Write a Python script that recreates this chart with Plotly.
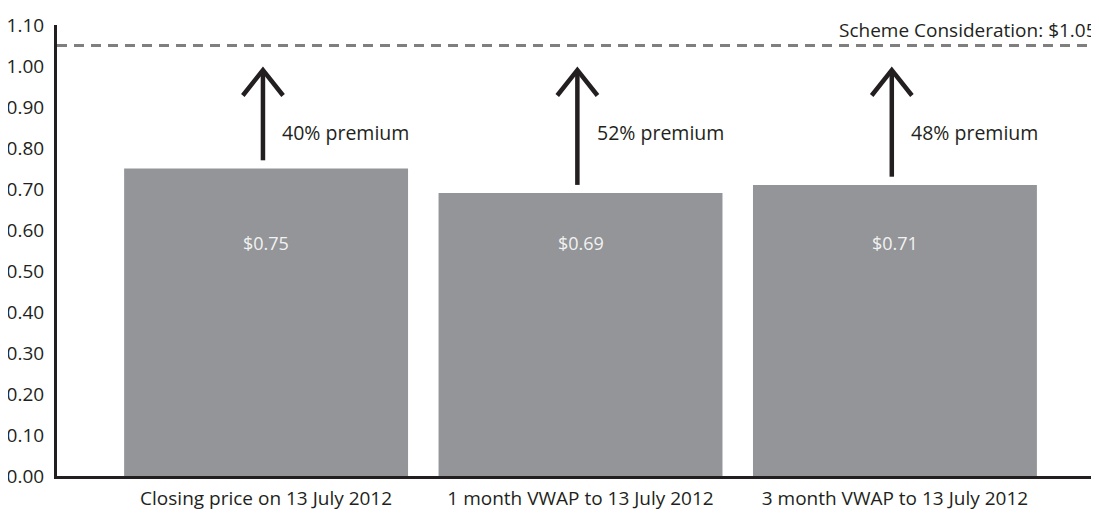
import plotly.graph_objects as go

categories = ["Closing price on 13 July 2012", "1 month VWAP to 13 July 2012", "3 month VWAP to 13 July 2012"]
prices = [0.75, 0.69, 0.71]
price_labels = ["$0.75", "$0.69", "$0.71"]
premium_labels = ["40% premium", "52% premium", "48% premium"]
scheme_value = 1.05
scheme_label = "Scheme Consideration: $1.05"
y_ticks = [0.0, 0.1, 0.2, 0.3, 0.4, 0.5, 0.6, 0.7, 0.8, 0.9, 1.0, 1.1]

FONT = "Open Sans"
BAR = "#939598"
INK = "#231f20"

fig = go.Figure()
fig.add_trace(go.Bar(x=list(range(len(categories))), y=prices, marker=dict(color=BAR, line=dict(width=0)),
                     hoverinfo="skip", showlegend=False))

shapes = []
annotations = []
# dashed scheme line
shapes.append(dict(type="line", xref="paper", yref="y", x0=0, x1=1, y0=scheme_value, y1=scheme_value,
                   line=dict(color="#7f7f7f", width=3, dash="10px,7px")))
annotations.append(dict(xref="paper", yref="y", x=1.0, y=scheme_value, xanchor="right", yanchor="bottom",
                        text=scheme_label, showarrow=False, yshift=0,
                        font=dict(family=FONT, size=19, color=INK)))

tip = 0.99
for i, (p, lab, prem) in enumerate(zip(prices, price_labels, premium_labels)):
    ax = i - 0.01
    shapes.append(dict(type="line", xref="x", yref="y", x0=ax, x1=ax, y0=p + 0.02, y1=tip - 0.005,
                       line=dict(color=INK, width=4.5)))
    shapes.append(dict(type="path", xref="x", yref="y",
                       path=f"M {ax-0.064},{tip-0.062} L {ax},{tip} L {ax+0.064},{tip-0.062}",
                       line=dict(color=INK, width=4.5)))
    annotations.append(dict(xref="x", yref="y", x=i + 0.045, y=0.839, xanchor="left", yanchor="middle",
                            text=prem, showarrow=False, font=dict(family=FONT, size=19.5, color=INK)))
    annotations.append(dict(xref="x", yref="y", x=i, y=0.568, xanchor="center", yanchor="middle",
                            text=lab, showarrow=False, font=dict(family=FONT, size=18, color="#f2f2f2")))

fig.update_layout(
    width=1091, height=507,
    margin=dict(l=49, r=0, t=17, b=39),
    plot_bgcolor="white", paper_bgcolor="white",
    bargap=0.097,
    shapes=shapes, annotations=annotations,
    font=dict(family=FONT, size=19, color=INK),
    xaxis=dict(range=[-0.665, 2.649], tickmode="array", tickvals=list(range(len(categories))),
               ticktext=categories, showline=True, linecolor=INK, linewidth=3, showgrid=False,
               zeroline=False, ticks="", ticklabelstandoff=3, automargin=False,
               tickfont=dict(family=FONT, size=19, color=INK)),
    yaxis=dict(range=[0, 1.1], tickmode="array", tickvals=y_ticks, tickformat=".2f",
               showline=True, linecolor=INK, linewidth=3, showgrid=False, zeroline=False, ticks="",
               ticklabelstandoff=6, automargin=False, tickfont=dict(family=FONT, size=19, color=INK)),
)

fig.write_html("out.html")
